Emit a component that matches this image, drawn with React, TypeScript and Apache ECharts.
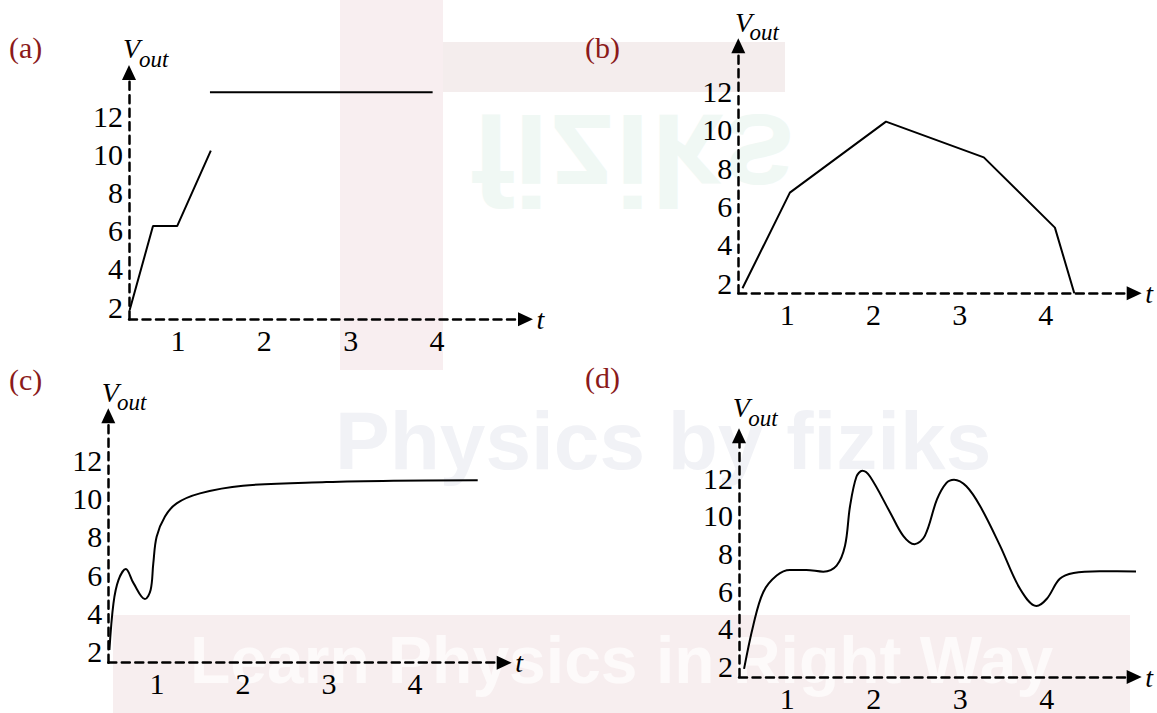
import React, { useEffect, useRef } from "react";
import * as echarts from "echarts";

// ---------- data ----------
const xTickValues = [1, 2, 3, 4];
const yTickValues = [2, 4, 6, 8, 10, 12];

// (a) piecewise linear rise, then a separate flat line
const aRise = [[0.44, 1.84], [0.71, 6.26], [0.99, 6.26], [1.38, 10.23]];
const aFlat = [[1.37, 13.3], [3.95, 13.3]];

// (b) piecewise linear hump
const bLine = [[0.48, 1.74], [1.03, 6.72], [2.145, 10.42], [3.28, 8.56], [4.105, 4.9], [4.33, 1.48]];

// (c) small overshoot then rise to ~11
const cCurve = [
  [0.447, 2.09], [0.494, 4.53], [0.552, 5.74], [0.638, 6.32], [0.727, 5.58],
  [0.86, 4.75], [0.926, 5.22], [0.957, 6.6], [0.996, 8.0], [1.093, 9.06],
  [1.229, 9.75], [1.5, 10.27], [2.0, 10.67], [2.97, 10.86], [3.75, 10.93], [4.73, 10.96],
];

// (d) oscillating curve
const dCurve = [
  [0.5, 1.87], [0.607, 4.19], [0.723, 5.95], [0.877, 6.82], [1.03, 7.12], [1.22, 7.12],
  [1.416, 7.03], [1.57, 7.35], [1.667, 8.4], [1.725, 10.5], [1.8, 12.08], [1.867, 12.38],
  [1.956, 12.08], [2.19, 10.16], [2.34, 8.93], [2.47, 8.49], [2.59, 8.93], [2.73, 10.86],
  [2.84, 11.74], [2.927, 11.91], [3.07, 11.56], [3.23, 10.5], [3.46, 8.4], [3.69, 6.12],
  [3.88, 5.21], [4.0, 5.59], [4.15, 6.65], [4.31, 6.96], [4.61, 7.05], [5.13, 7.03],
];

const panelLabels = ["(a)", "(b)", "(c)", "(d)"];

// ---------- layout ----------
const FONT = "'Liberation Serif', 'Times New Roman', serif";
const SANS = "'Liberation Sans', Arial, sans-serif";
const panels = [
  { grid: { left: 129, top: 72.5, width: 396.5, height: 246.8 }, x: [0.432, 5.026], y: [1.353, 14.34] },
  { grid: { left: 738.3, top: 45.8, width: 395.9, height: 247.5 }, x: [0.4316, 5.025], y: [1.479, 14.37] },
  { grid: { left: 108.3, top: 415.8, width: 395.9, height: 246.9 }, x: [0.434, 5.038], y: [1.426, 14.32] },
  { grid: { left: 739, top: 435.8, width: 395.2, height: 243.2 }, x: [0.4416, 5.01], y: [1.437, 14.24] },
];
const labelPos = [[9, 47.4], [585, 47.4], [9, 379], [585, 377.4]];
const vPos = [[123, 48.5, 139, 59.2], [735, 22.5, 749.5, 32.2], [101.7, 392.2, 117, 402.2], [732.7, 407.8, 748.3, 418.2]];

const axisLine = {
  show: true,
  onZero: false,
  symbol: ["none", "triangle"],
  symbolSize: [14, 15],
  lineStyle: { color: "#000", width: 2.5, type: [8, 5.5] },
};
const tickText = { fontSize: 30, fontFamily: FONT, color: "#000" };

export default function App() {
  const ref = useRef<HTMLDivElement>(null);
  useEffect(() => {
    if (!ref.current) return;
    const chart = echarts.init(ref.current, null, { renderer: "svg" });

    const lineStyle = { color: "#000", width: 2 };
    const mk = (idx: number, data: number[][], smooth: number | boolean) => ({
      type: "line",
      xAxisIndex: idx,
      yAxisIndex: idx,
      data,
      smooth,
      showSymbol: false,
      symbol: "none",
      clip: false,
      lineStyle,
      z: 5,
    });

    const graphic: any[] = [
      // faint watermark pieces
      { type: "rect", z: -10, silent: true, shape: { x: 340, y: 0, width: 103, height: 370 }, style: { fill: "#f8eef0" } },
      { type: "rect", z: -10, silent: true, shape: { x: 443, y: 42, width: 342, height: 50 }, style: { fill: "#f4eded" } },
      {
        type: "text", z: -9, silent: true, x: 470, y: 95, scaleY: -1,
        style: { text: "fiziks", font: `bold 130px ${SANS}`, fill: "#f0f8f4", textVerticalAlign: "bottom" },
      },
      {
        type: "text", z: -9, silent: true, x: 335, y: 440,
        style: { text: "Physics by fiziks", font: `bold 82px ${SANS}`, fill: "#f1f2f6", textVerticalAlign: "middle" },
      },
      { type: "rect", z: -10, silent: true, shape: { x: 113, y: 615, width: 1017, height: 98 }, style: { fill: "#f7eeef" } },
      {
        type: "text", z: -9, silent: true, x: 190, y: 660,
        style: { text: "Learn Physics in Right Way", font: `bold 66px ${SANS}`, fill: "#fdfafa", textVerticalAlign: "middle" },
      },
    ];
    panelLabels.forEach((t, i) => {
      graphic.push({
        type: "text", z: 20, x: labelPos[i][0], y: labelPos[i][1],
        style: { text: t, font: `30px ${FONT}`, fill: "#8b1a1a", textVerticalAlign: "middle" },
      });
      const p = vPos[i];
      graphic.push({
        type: "text", z: 20, x: p[0], y: p[1],
        style: { text: "V", font: `italic 28px ${FONT}`, fill: "#000", textVerticalAlign: "middle" },
      });
      graphic.push({
        type: "text", z: 20, x: p[2], y: p[3],
        style: { text: "out", font: `italic 23px ${FONT}`, fill: "#000", textVerticalAlign: "middle" },
      });
    });

    chart.setOption({
      animation: false,
      backgroundColor: "#ffffff",
      grid: panels.map((p) => ({ ...p.grid, containLabel: false })),
      xAxis: panels.map((p, i) => ({
        gridIndex: i,
        type: "value",
        min: p.x[0],
        max: p.x[1],
        axisLine,
        axisTick: { show: false },
        splitLine: { show: false },
        axisLabel: { customValues: xTickValues, margin: 6, ...tickText },
        name: "t",
        nameLocation: "end",
        nameGap: 11,
        nameTextStyle: { fontStyle: "italic", fontSize: 28, fontFamily: FONT, color: "#000" },
      })),
      yAxis: panels.map((p, i) => ({
        gridIndex: i,
        type: "value",
        min: p.y[0],
        max: p.y[1],
        axisLine,
        axisTick: { show: false },
        splitLine: { show: false },
        axisLabel: { customValues: yTickValues, margin: 6, ...tickText },
      })),
      series: [
        mk(0, aRise, false),
        mk(0, aFlat, false),
        mk(1, bLine, false),
        mk(2, cCurve, 0.35),
        mk(3, dCurve, 0.35),
      ],
      graphic,
    });
    return () => chart.dispose();
  }, []);

  return (
    <div
      ref={ref}
      style={{ position: "fixed", left: 0, top: 0, width: 1157, height: 713, background: "#fff" }}
    />
  );
}
